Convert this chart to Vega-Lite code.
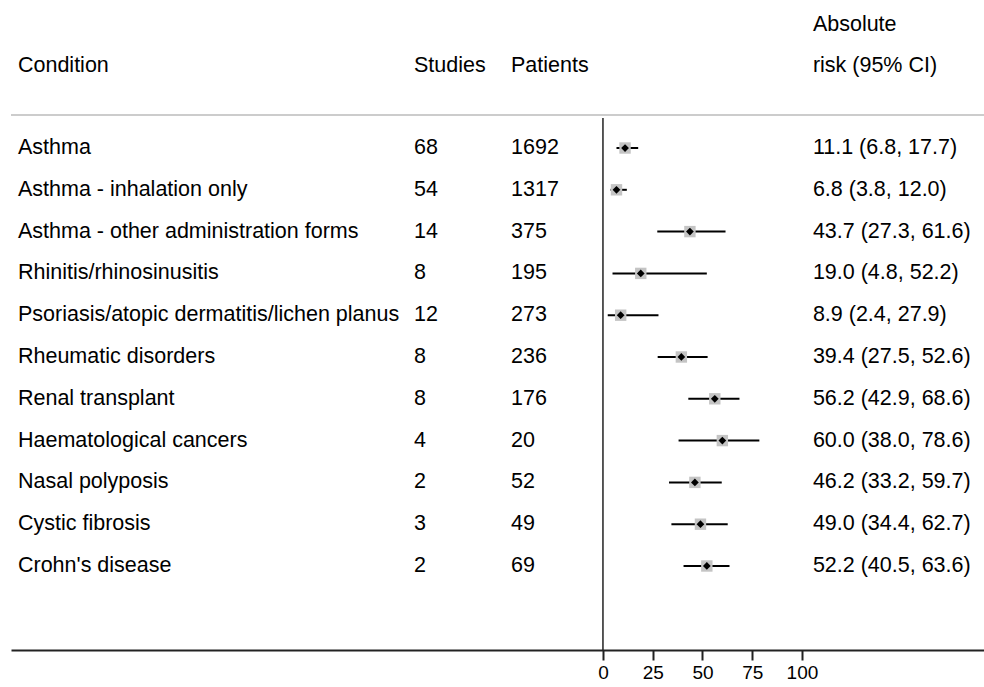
{
  "$schema": "https://vega.github.io/schema/vega-lite/v6.json",
  "autosize": {"type": "none"},
  "padding": {"left": 11, "top": 0, "right": 0, "bottom": 37},
  "width": 973,
  "height": 650,
  "background": "white",
  "config": {
    "view": {"stroke": null},
    "font": "Liberation Sans",
    "text": {"font": "Liberation Sans", "fontSize": 21.5, "color": "black", "baseline": "middle", "align": "left"}
  },
  "data": {
    "values": [
      {"row": 1, "condition": "Asthma", "studies": 68, "patients": 1692, "est": 11.1, "lo": 6.8, "hi": 17.7, "ci": "11.1 (6.8, 17.7)"},
      {"row": 2, "condition": "Asthma - inhalation only", "studies": 54, "patients": 1317, "est": 6.8, "lo": 3.8, "hi": 12.0, "ci": "6.8 (3.8, 12.0)"},
      {"row": 3, "condition": "Asthma - other administration forms", "studies": 14, "patients": 375, "est": 43.7, "lo": 27.3, "hi": 61.6, "ci": "43.7 (27.3, 61.6)"},
      {"row": 4, "condition": "Rhinitis/rhinosinusitis", "studies": 8, "patients": 195, "est": 19.0, "lo": 4.8, "hi": 52.2, "ci": "19.0 (4.8, 52.2)"},
      {"row": 5, "condition": "Psoriasis/atopic dermatitis/lichen planus", "studies": 12, "patients": 273, "est": 8.9, "lo": 2.4, "hi": 27.9, "ci": "8.9 (2.4, 27.9)"},
      {"row": 6, "condition": "Rheumatic disorders", "studies": 8, "patients": 236, "est": 39.4, "lo": 27.5, "hi": 52.6, "ci": "39.4 (27.5, 52.6)"},
      {"row": 7, "condition": "Renal transplant", "studies": 8, "patients": 176, "est": 56.2, "lo": 42.9, "hi": 68.6, "ci": "56.2 (42.9, 68.6)"},
      {"row": 8, "condition": "Haematological cancers", "studies": 4, "patients": 20, "est": 60.0, "lo": 38.0, "hi": 78.6, "ci": "60.0 (38.0, 78.6)"},
      {"row": 9, "condition": "Nasal polyposis", "studies": 2, "patients": 52, "est": 46.2, "lo": 33.2, "hi": 59.7, "ci": "46.2 (33.2, 59.7)"},
      {"row": 10, "condition": "Cystic fibrosis", "studies": 3, "patients": 49, "est": 49.0, "lo": 34.4, "hi": 62.7, "ci": "49.0 (34.4, 62.7)"},
      {"row": 11, "condition": "Crohn's disease", "studies": 2, "patients": 69, "est": 52.2, "lo": 40.5, "hi": 63.6, "ci": "52.2 (40.5, 63.6)"}
    ]
  },
  "layer": [
    {
      "mark": {"type": "rule", "color": "black", "strokeWidth": 2},
      "encoding": {
        "x": {
          "field": "lo", "type": "quantitative",
          "scale": {"domain": [-297.5, 191.5], "nice": false, "zero": false},
          "axis": {
            "title": null, "grid": false, "values": [0, 25, 50, 75, 100],
            "domainColor": "#222222", "domainWidth": 2,
            "tickColor": "#222222", "tickWidth": 2, "tickSize": 10,
            "labelFont": "Liberation Sans", "labelFontSize": 19, "labelColor": "black", "labelPadding": 3,
            "labelFlush": false, "labelOverlap": false
          }
        },
        "x2": {"field": "hi"},
        "y": {"field": "row", "type": "quantitative", "scale": {"domain": [-2.541, 13.01], "reverse": true, "nice": false, "zero": false}, "axis": null}
      }
    },
    {
      "data": {"values": [{"k": 1}]},
      "mark": {"type": "rule", "color": "#cccccc", "strokeWidth": 2},
      "encoding": {
        "y": {"datum": 0.21}
      }
    },
    {
      "data": {"values": [{"k": 1}]},
      "mark": {"type": "rule", "color": "#222222", "strokeWidth": 1.5},
      "encoding": {
        "x": {"datum": 0},
        "y": {"datum": 0.28},
        "y2": {"datum": 13.01}
      }
    },
    {
      "mark": {"type": "point", "shape": "square", "filled": true, "color": "#c4c4c4", "size": 130, "opacity": 1},
      "encoding": {
        "x": {"field": "est", "type": "quantitative"},
        "y": {"field": "row", "type": "quantitative"}
      }
    },
    {
      "mark": {"type": "point", "shape": "diamond", "filled": true, "color": "black", "size": 60, "opacity": 1},
      "encoding": {
        "x": {"field": "est", "type": "quantitative"},
        "y": {"field": "row", "type": "quantitative"}
      }
    },
    {
      "mark": {"type": "text"},
      "encoding": {
        "x": {"datum": -294},
        "y": {"field": "row", "type": "quantitative"},
        "text": {"field": "condition"}
      }
    },
    {
      "mark": {"type": "text"},
      "encoding": {
        "x": {"datum": -95},
        "y": {"field": "row", "type": "quantitative"},
        "text": {"field": "studies"}
      }
    },
    {
      "mark": {"type": "text"},
      "encoding": {
        "x": {"datum": -46.2},
        "y": {"field": "row", "type": "quantitative"},
        "text": {"field": "patients"}
      }
    },
    {
      "mark": {"type": "text"},
      "encoding": {
        "x": {"datum": 105.5},
        "y": {"field": "row", "type": "quantitative"},
        "text": {"field": "ci"}
      }
    },
    {
      "data": {"values": [{"k": 1}]},
      "mark": {"type": "text", "text": "Condition"},
      "encoding": {"x": {"datum": -294}, "y": {"datum": -0.962}}
    },
    {
      "data": {"values": [{"k": 1}]},
      "mark": {"type": "text", "text": "Studies"},
      "encoding": {"x": {"datum": -95}, "y": {"datum": -0.962}}
    },
    {
      "data": {"values": [{"k": 1}]},
      "mark": {"type": "text", "text": "Patients"},
      "encoding": {"x": {"datum": -46.2}, "y": {"datum": -0.962}}
    },
    {
      "data": {"values": [{"k": 1}]},
      "mark": {"type": "text", "text": "Absolute"},
      "encoding": {"x": {"datum": 105.5}, "y": {"datum": -1.943}}
    },
    {
      "data": {"values": [{"k": 1}]},
      "mark": {"type": "text", "text": "risk (95% CI)"},
      "encoding": {"x": {"datum": 105.5}, "y": {"datum": -0.962}}
    }
  ]
}
